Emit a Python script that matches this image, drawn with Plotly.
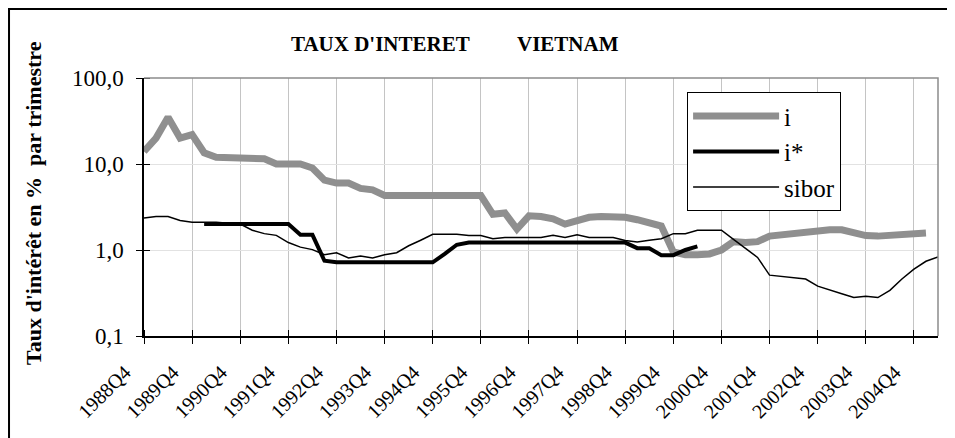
import plotly.graph_objects as go

quarters = [
    "1988Q4",
    "1989Q1", "1989Q2", "1989Q3", "1989Q4",
    "1990Q1", "1990Q2", "1990Q3", "1990Q4",
    "1991Q1", "1991Q2", "1991Q3", "1991Q4",
    "1992Q1", "1992Q2", "1992Q3", "1992Q4",
    "1993Q1", "1993Q2", "1993Q3", "1993Q4",
    "1994Q1", "1994Q2", "1994Q3", "1994Q4",
    "1995Q1", "1995Q2", "1995Q3", "1995Q4",
    "1996Q1", "1996Q2", "1996Q3", "1996Q4",
    "1997Q1", "1997Q2", "1997Q3", "1997Q4",
    "1998Q1", "1998Q2", "1998Q3", "1998Q4",
    "1999Q1", "1999Q2", "1999Q3", "1999Q4",
    "2000Q1", "2000Q2", "2000Q3", "2000Q4",
    "2001Q1", "2001Q2", "2001Q3", "2001Q4",
    "2002Q1", "2002Q2", "2002Q3", "2002Q4",
    "2003Q1", "2003Q2", "2003Q3", "2003Q4",
    "2004Q1", "2004Q2", "2004Q3", "2004Q4",
    "2005Q1", "2005Q2",
]

i_rate = [
    14, 20, 35, 20, 22, 13.5, 12, 12, 12, 12,
    11.5, 10, 10, 10, 9, 6.5, 6, 6, 5.2, 5.0,
    4.3, 4.3, 4.3, 4.3, 4.3, 4.3, 4.3, 4.3, 4.3, 2.6,
    2.7, 1.75, 2.5, 2.45, 2.3, 2.0, 2.2, 2.4, 2.45, 2.45,
    2.4, 2.25, 2.1, 1.9, 0.95, 0.88, 0.88, 0.9, 1.0, 1.25,
    1.22, 1.25, 1.45, 1.5, 1.6, 1.65, 1.7, 1.72, 1.72, 1.6,
    1.47, 1.45, 1.47, 1.5, 1.55, 1.58, None,
]

i_star = [
    None, None, None, None, None, 2.0, 2.0, 2.0, 2.0, 2.0,
    2.0, 2.0, 2.0, 1.5, 1.5, 0.75, 0.72, 0.72, 0.72, 0.72,
    0.72, 0.72, 0.72, 0.72, 0.72, 0.9, 1.15, 1.22, 1.22, 1.22,
    1.22, 1.22, 1.22, 1.22, 1.22, 1.22, 1.22, 1.22, 1.22, 1.22,
    1.22, 1.05, 1.05, 0.87, 0.87, 1.0, 1.1, None, None, None,
    None, None, None, None, None, None, None, None, None, None,
    None, None, None, None, None, None, None,
]

sibor = [
    2.35, 2.45, 2.45, 2.2, 2.1, 2.1, 2.1, 2.05, 2.0, 1.7,
    1.55, 1.48, 1.22, 1.08, 1.01, 0.88, 0.93, 0.81, 0.85, 0.81,
    0.88, 0.93, 1.12, 1.3, 1.52, 1.52, 1.52, 1.47, 1.47, 1.35,
    1.4, 1.4, 1.4, 1.4, 1.48, 1.4, 1.5, 1.4, 1.4, 1.4,
    1.29, 1.24, 1.3, 1.35, 1.55, 1.55, 1.7, 1.7, 1.7, 1.33,
    1.05, 0.82, 0.51, 0.49, 0.48, 0.46, 0.38, 0.34, 0.31, 0.28,
    0.29, 0.28, 0.34, 0.46, 0.6, 0.74, 0.83,
]

x_tick_labels = [
    "1988Q4", "1989Q4", "1990Q4", "1991Q4", "1992Q4", "1993Q4",
    "1994Q4", "1995Q4", "1996Q4", "1997Q4", "1998Q4", "1999Q4",
    "2000Q4", "2001Q4", "2002Q4", "2003Q4", "2004Q4",
]
y_tick_values = [0.1, 1, 10, 100]
y_tick_labels = ["0,1", "1,0", "10,0", "100,0"]

SERIF = "'Liberation Serif', 'DejaVu Serif', serif"

fig = go.Figure()
fig.add_trace(go.Scatter(x=quarters, y=i_rate, name="i", mode="lines",
                         line=dict(color="#8f8f8f", width=7), legendgroup="a"))
fig.add_trace(go.Scatter(x=quarters, y=i_star, name="i*", mode="lines",
                         line=dict(color="black", width=4), legendgroup="b"))
fig.add_trace(go.Scatter(x=quarters, y=sibor, name="sibor", mode="lines",
                         line=dict(color="black", width=1.5), legendgroup="c"))

fig.update_layout(
    width=955, height=438,
    margin=dict(l=136, r=25, t=70, b=110),
    paper_bgcolor="white", plot_bgcolor="white",
    font=dict(family=SERIF, color="black"),
    showlegend=True,
    legend=dict(
        x=0.684, y=0.945, xanchor="left", yanchor="top",
        bgcolor="white", bordercolor="black", borderwidth=1,
        font=dict(family=SERIF, size=25, color="black"),
        tracegroupgap=0, itemwidth=86,
    ),
    xaxis=dict(
        type="category", categoryorder="array", categoryarray=quarters,
        range=[0, len(quarters) - 1],
        tickmode="array", tickvals=x_tick_labels, ticktext=x_tick_labels,
        tickangle=-45, ticks="outside", ticklen=6, tickwidth=1, tickcolor="black",
        ticklabelshift=-19, ticklabelstandoff=9,
        tickfont=dict(family=SERIF, size=20, color="black"),
        showline=True, linecolor="black", linewidth=1.5,
        showgrid=True, gridcolor="#c4c4c4", gridwidth=1,
        zeroline=False,
        minor=dict(ticks="inside", ticklen=6, tickwidth=1, tickcolor="black",
                   tickmode="array", tickvals=x_tick_labels, showgrid=False),
    ),
    yaxis=dict(
        type="log", range=[-1, 2],
        tickmode="array", tickvals=y_tick_values, ticktext=y_tick_labels,
        ticks="outside", ticklen=6, tickwidth=1, tickcolor="black",
        ticklabelstandoff=8,
        tickfont=dict(family=SERIF, size=23, color="black"),
        showline=True, linecolor="black", linewidth=1.5,
        showgrid=True, gridcolor="#e2e2e2", gridwidth=1,
        zeroline=False,
        minor=dict(ticks="inside", ticklen=6, tickwidth=1, tickcolor="black",
                   tickmode="array", tickvals=y_tick_values, showgrid=False),
    ),
    annotations=[
        dict(text="<b>TAUX D'INTERET" + "&nbsp;" * 9 + "VIETNAM</b>",
             xref="paper", yref="paper", x=0.392, y=1.13,
             xanchor="center", yanchor="middle", showarrow=False,
             font=dict(family=SERIF, size=21, color="black")),
        dict(text="<b>Taux d'intérêt en %&nbsp;&nbsp;par trimestre</b>",
             xref="paper", yref="paper", x=-0.14, y=0.515,
             xanchor="center", yanchor="middle", textangle=-90, showarrow=False,
             font=dict(family=SERIF, size=22, color="black")),
    ],
    shapes=[
        dict(type="path", xref="paper", yref="paper", path="M 0,1 L 1,1 L 1,0",
             line=dict(color="#8c8c8c", width=1.5)),
        dict(type="rect", xref="paper", yref="paper",
             x0=-0.1700, x1=1.0126, y0=-0.41, y1=1.2674,
             line=dict(color="black", width=2), fillcolor="rgba(0,0,0,0)"),
    ],
)

fig.write_html("out.html")
